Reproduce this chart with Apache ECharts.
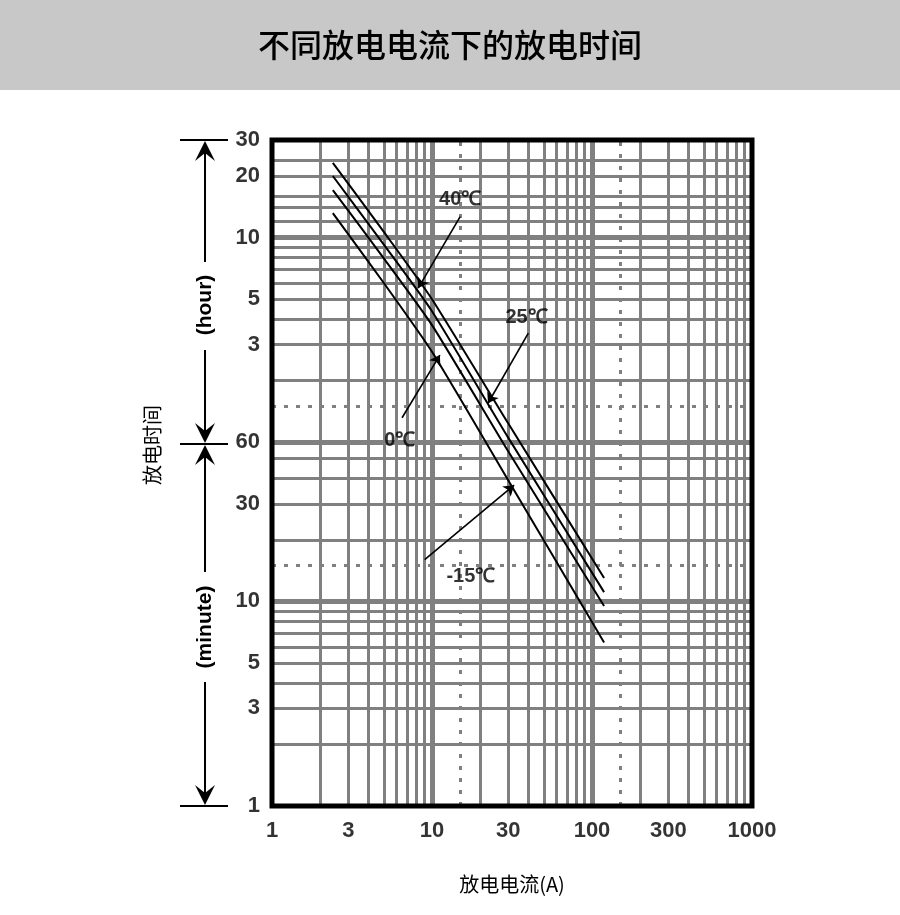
<!DOCTYPE html>
<html>
<head>
<meta charset="utf-8">
<script src="https://cdn.jsdelivr.net/npm/echarts@6/dist/echarts.min.js"></script>
<style>html,body{margin:0;padding:0;background:#fff}#chart{width:900px;height:915px}</style>
</head>
<body>
<div id="chart"></div>
<script>
// discharge time (minutes) vs discharge current (A)
var curve40 = [[2.4, 1390], [5, 640], [10, 300], [30, 74], [119, 13]];
var curve25 = [[2.4, 1200], [5, 555], [10, 262], [30, 63], [119, 11.1]];
var curve0 = [[2.4, 1025], [5, 475], [10, 224], [30, 54], [119, 9.5]];
var curveM15 = [[2.4, 790], [5, 360], [10, 166], [30, 39], [119, 6.3]];

var xTickVals = [1, 3, 10, 30, 100, 300, 1000];
var yTickVals = [1, 3, 5, 10, 30, 60, 180, 300, 600, 1200, 1800];
var yTickText = ['1', '3', '5', '10', '30', '60', '3', '5', '10', '20', '30'];

var xMinor = [2, 3, 4, 5, 6, 7, 8, 9, 20, 30, 40, 50, 60, 70, 80, 90, 200, 300, 400, 500, 600, 700, 800, 900];
var xMajor = [10, 100];
var xDotted = [15, 150];
var yMinor = [2, 3, 4, 5, 6, 7, 8, 9, 20, 30, 40, 50, 120, 180, 240, 300, 360, 420, 480, 540, 720, 840, 960, 1200, 1440];
var yMajor = [10, 60, 600];
var yDotted = [15, 90];

// annotations: [label, labelPos, arrowTail, arrowTip]
var notes = [
  ['40℃', [15, 920], [15, 760], [8.2, 340]],
  ['25℃', [39, 245], [40, 205], [22.4, 93]],
  ['0℃', [6.3, 61], [6.5, 79], [11.2, 160]],
  ['-15℃', [17.5, 13.2], [9.0, 16], [32.6, 37]]
];

var myChart = echarts.init(document.getElementById('chart'));
var gray = '#808080';
var font = 'Liberation Sans, Arial, sans-serif';

function gridLines(vals, axis, width, type) {
  return vals.map(function (v) {
    var o = {lineStyle: {width: width, type: type, color: gray}};
    o[axis] = v;
    return o;
  });
}

var gridData = []
  .concat(gridLines(xMinor, 'xAxis', 3, 'solid'))
  .concat(gridLines(xMajor, 'xAxis', 5, 'solid'))
  .concat(gridLines(xDotted, 'xAxis', 3, [4, 8]))
  .concat(gridLines(yMinor, 'yAxis', 3, 'solid'))
  .concat(gridLines(yMajor, 'yAxis', 5, 'solid'))
  .concat(gridLines(yDotted, 'yAxis', 3, [4, 8]));

var series = [{
  type: 'line', data: [], silent: true,
  markLine: {silent: true, symbol: 'none', animation: false, label: {show: false}, data: gridData}
}];

[curve40, curve25, curve0, curveM15].forEach(function (c) {
  series.push({type: 'line', data: c, smooth: 0.2, showSymbol: false, z: 5, silent: true,
    lineStyle: {color: '#000', width: 2}});
});

series.push({
  type: 'line', data: [], z: 6,
  markLine: {silent: true, animation: false, symbol: ['none', 'arrow'], symbolSize: 10,
    label: {show: false}, lineStyle: {color: '#000', width: 1.6, type: 'solid'},
    data: notes.map(function (n) { return [{coord: n[2]}, {coord: n[3]}]; })}
});

series.push({
  type: 'scatter', symbolSize: 0, z: 7, clip: false, silent: true,
  data: notes.map(function (n) { return {value: n[1], name: n[0]}; }),
  label: {show: true, position: 'inside', formatter: '{b}', color: '#000', fontSize: 20, fontWeight: 'bold',
    fontFamily: font}
});

series.push({
  type: 'scatter', symbolSize: 0, clip: false, z: 7, silent: true,
  data: xTickVals.map(function (v) { return [v, 1]; }),
  label: {show: true, position: 'bottom', distance: 14, formatter: function (p) { return p.value[0]; },
    color: '#000', fontSize: 22, fontWeight: 'bold', fontFamily: font}
});

series.push({
  type: 'scatter', symbolSize: 0, clip: false, z: 7, silent: true,
  data: yTickVals.map(function (v, i) { return {value: [1, v], name: yTickText[i]}; }),
  label: {show: true, position: 'left', distance: 12, formatter: '{b}',
    color: '#000', fontSize: 22, fontWeight: 'bold', fontFamily: font}
});

function arrowHead(x, y, dir) {
  return {type: 'polygon', shape: {points: [[x, y], [x - 10, y - 20 * dir], [x, y - 12 * dir], [x + 10, y - 20 * dir]]},
    style: {fill: '#000'}};
}

var option = {
  animation: false,
  grid: {left: 272, right: 148, top: 140, bottom: 109, show: true, borderColor: '#000', borderWidth: 5, z: 10},
  xAxis: {type: 'log', min: 1, max: 1000, logBase: 10,
    axisLine: {show: false}, axisTick: {show: false}, axisLabel: {show: false}, splitLine: {show: false}},
  yAxis: {type: 'log', min: 1, max: 1800, logBase: 10,
    axisLine: {show: false}, axisTick: {show: false}, axisLabel: {show: false}, splitLine: {show: false}},
  graphic: [
    {type: 'rect', shape: {x: 0, y: 0, width: 900, height: 90}, style: {fill: '#c8c8c8'}},
    {type: 'text', x: 450, y: 45, style: {text: '不同放电电流下的放电时间', fill: '#000', font: '500 32px "Noto Sans CJK SC"', align: 'center', verticalAlign: 'middle'}},
    {type: 'text', x: 512, y: 884, style: {text: '放电电流(A)', fill: '#000', font: '20px "Noto Sans CJK SC"', align: 'center', verticalAlign: 'middle'}},
    {type: 'text', x: 152, y: 445, rotation: Math.PI / 2, style: {text: '放电时间', fill: '#000', font: '20px "Noto Sans CJK SC"', align: 'center', verticalAlign: 'middle'}},
    {type: 'text', x: 205, y: 305, rotation: Math.PI / 2, style: {text: '(hour)', fill: '#000', font: 'bold 21px ' + font, align: 'center', verticalAlign: 'middle'}},
    {type: 'text', x: 205, y: 627, rotation: Math.PI / 2, style: {text: '(minute)', fill: '#000', font: 'bold 21px ' + font, align: 'center', verticalAlign: 'middle'}},
    {type: 'line', shape: {x1: 180, y1: 140, x2: 228, y2: 140}, style: {stroke: '#000', lineWidth: 2}},
    {type: 'line', shape: {x1: 180, y1: 444, x2: 228, y2: 444}, style: {stroke: '#000', lineWidth: 2}},
    {type: 'line', shape: {x1: 180, y1: 806, x2: 228, y2: 806}, style: {stroke: '#000', lineWidth: 2}},
    {type: 'line', shape: {x1: 205, y1: 145, x2: 205, y2: 262}, style: {stroke: '#000', lineWidth: 2}},
    {type: 'line', shape: {x1: 205, y1: 350, x2: 205, y2: 440}, style: {stroke: '#000', lineWidth: 2}},
    {type: 'line', shape: {x1: 205, y1: 448, x2: 205, y2: 572}, style: {stroke: '#000', lineWidth: 2}},
    {type: 'line', shape: {x1: 205, y1: 682, x2: 205, y2: 800}, style: {stroke: '#000', lineWidth: 2}},
    arrowHead(205, 141, -1),
    arrowHead(205, 443, 1),
    arrowHead(205, 445, -1),
    arrowHead(205, 805, 1)
  ],
  series: series
};
myChart.setOption(option);
</script>
</body>
</html>
